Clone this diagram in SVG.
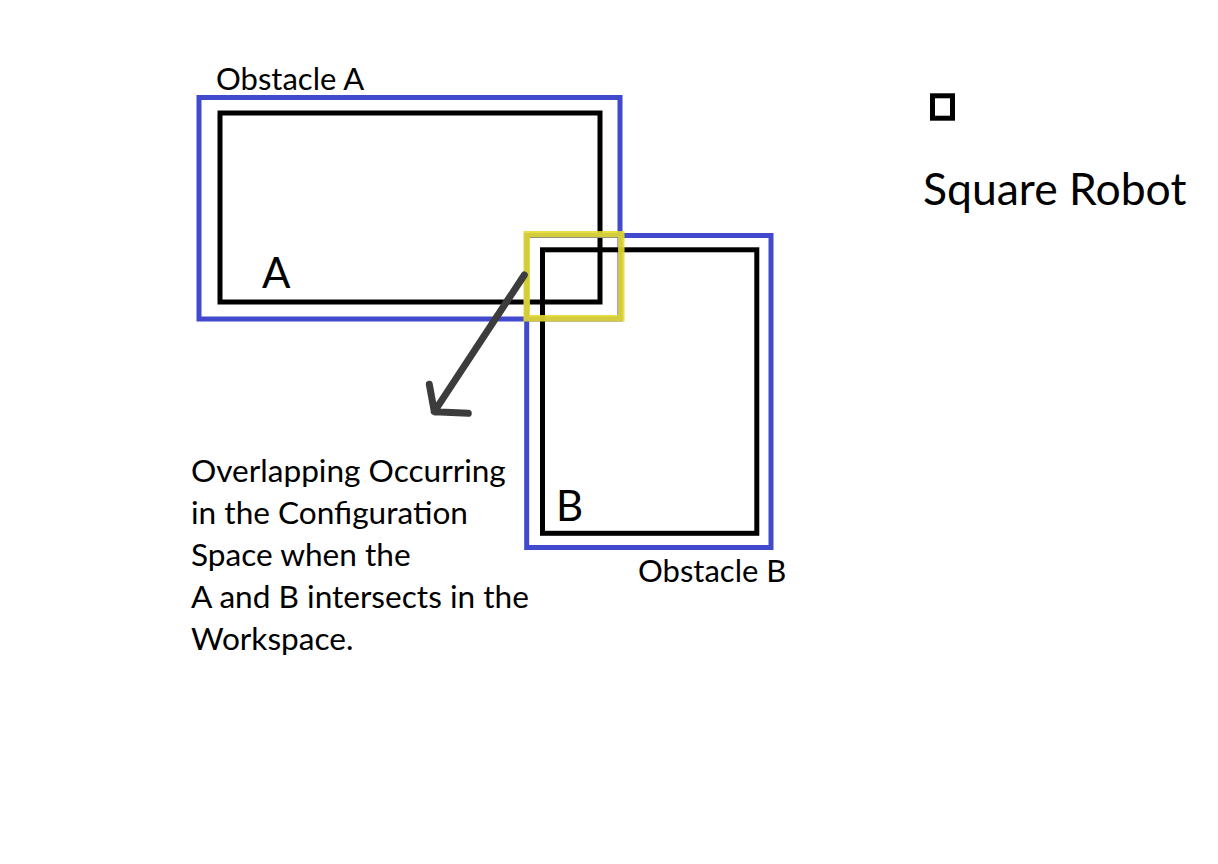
<svg xmlns="http://www.w3.org/2000/svg" width="1218" height="864" viewBox="0 0 1218 864">
<style>
.bg{fill:#ffffff}
.cspace{fill:none;stroke:#4149cc;stroke-width:5}
.obst{fill:none;stroke:#000000;stroke-width:5}
.hl{fill:none;stroke:#e4da2e;stroke-width:6.5;stroke-opacity:0.9}
.arrow{fill:none;stroke:#3c3c3c;stroke-width:7;stroke-linecap:round;stroke-linejoin:round}
text{font-family:Lato,"Open Sans",sans-serif;fill:#000000}
.lbl{font-size:31px}
.big{font-size:42px}
.title{font-size:44.5px}
.note{font-size:31.6px}
</style>
<rect class="bg" x="0" y="0" width="1218" height="864"/>
<g id="obstacleA">
<rect class="cspace" x="199" y="97.5" width="421" height="221.5"/>
<rect class="obst" x="220" y="113" width="380" height="189"/>
<text class="big" x="262" y="288">A</text>
<text class="lbl" x="216" y="90">Obstacle A</text>
</g>
<g id="obstacleB">
<rect class="cspace" x="526.7" y="235.5" width="244.3" height="312"/>
<rect class="obst" x="542.5" y="249.8" width="214.3" height="283.5"/>
<text class="big" x="556" y="521">B</text>
<text class="lbl" x="638" y="582">Obstacle B</text>
</g>
<g id="overlap">
<rect class="hl" x="526.7" y="234.3" width="94.6" height="84"/>
</g>
<g id="robot">
<rect class="obst" x="932.5" y="95.8" width="20" height="22.4"/>
<text class="title" x="923" y="205">Square Robot</text>
</g>
<g id="connectors">
<path class="arrow" d="M524.3,275 L434.3,411.7 M429.3,384.3 L434.3,411.7 L468.3,413.3"/>
</g>
<g id="note">
<text class="note" x="191" y="482">Overlapping Occurring</text>
<text class="note" x="191" y="524">in the Configuration</text>
<text class="note" x="191" y="566">Space when the</text>
<text class="note" x="191" y="608">A and B intersects in the</text>
<text class="note" x="191" y="650">Workspace.</text>
</g>
</svg>
